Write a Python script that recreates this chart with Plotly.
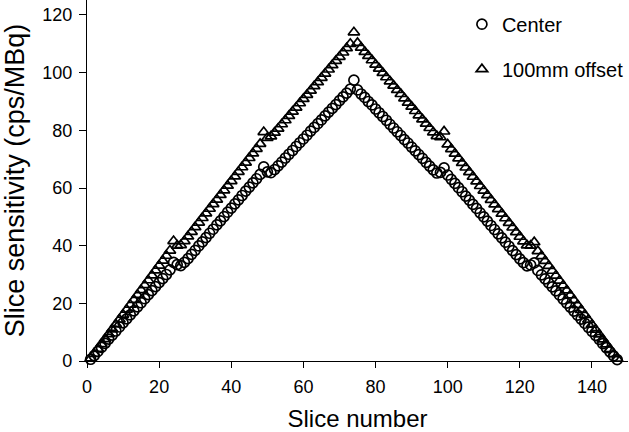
import plotly.graph_objects as go

# Slice numbers 1..147
slices = list(range(1, 148))

# Slice sensitivity, phantom at the centre (cps/MBq)
center = [
    0.6, 1.9, 3.3, 4.7, 6.1, 7.6, 9.0, 10.4, 11.8, 13.2, 14.6, 16.0, 17.4, 18.8, 20.2, 21.6,
    23.0, 24.4, 25.8, 27.2, 28.6, 30.0, 31.6,
    34.2,
    33.4, 33.1, 34.2, 35.5,
    37.0, 38.4, 39.9, 41.3, 42.8, 44.3, 45.7, 47.2, 48.6, 50.1, 51.6, 53.0, 54.5, 55.9,
    57.4, 58.9, 60.3, 61.8, 63.2, 64.7,
    67.3,
    65.6, 65.3, 66.4,
    67.7, 69.0, 70.4, 71.7, 73.0, 74.4, 75.7, 77.0, 78.3, 79.7, 81.0, 82.3, 83.6, 85.0,
    86.3, 87.6, 88.9, 90.3, 91.6, 92.9, 94.3,
    97.4,
    94.0, 92.6, 91.4, 90.0, 88.8, 87.4, 86.1, 84.8, 83.5, 82.1, 80.8, 79.5, 78.2, 76.8,
    75.6, 74.2, 72.9, 71.6, 70.3, 68.9, 67.6,
    66.3, 65.2, 65.4, 67.0,
    64.5, 63.0, 61.6, 60.1, 58.7, 57.2, 55.8, 54.3, 52.9, 51.4, 50.0, 48.5, 47.0, 45.6,
    44.1, 42.7, 41.2, 39.8, 38.3, 36.9,
    35.4, 34.1, 33.0, 33.3,
    34.0,
    31.4, 29.9, 28.5, 27.1, 25.7, 24.3, 22.9, 21.5, 20.1, 18.7, 17.3, 15.9, 14.5, 13.1,
    11.7, 10.3, 8.9, 7.5, 6.0, 4.6, 3.2, 1.8, 0.5,
]

# Slice sensitivity, phantom 100 mm off-centre (cps/MBq)
offset = [
    0.9, 2.5, 4.2, 5.9, 7.6, 9.3, 11.0, 12.7, 14.4, 16.1, 17.8, 19.5, 21.2, 22.9, 24.6, 26.3,
    28.0, 29.7, 31.4, 33.1, 34.8, 36.5, 38.3,
    41.6,
    40.0, 40.2, 41.6, 43.2,
    44.8, 46.4, 48.0, 49.6, 51.2, 52.8, 54.4, 56.0, 57.6, 59.2, 60.8, 62.4, 64.0, 65.6,
    67.2, 68.8, 70.4, 72.0, 73.6, 75.3,
    79.4,
    77.4, 77.9, 79.2,
    80.6, 82.1, 83.5, 85.0, 86.5, 87.9, 89.4, 90.9, 92.3, 93.8, 95.3, 96.7, 98.2, 99.7,
    101.1, 102.6, 104.1, 105.5, 107.0, 108.5, 110.0,
    114.0,
    110.3, 108.7, 107.2, 105.8, 104.3, 102.8, 101.4, 99.9, 98.4, 97.0, 95.5, 94.0, 92.6,
    91.1, 89.6, 88.2, 86.7, 85.2, 83.8, 82.3, 80.8,
    79.3, 78.0, 77.6, 79.6,
    75.1, 73.5, 71.9, 70.3, 68.7, 67.1, 65.5, 63.9, 62.3, 60.7, 59.1, 57.5, 55.9, 54.3,
    52.7, 51.1, 49.5, 47.9, 46.3, 44.7,
    43.1, 41.5, 40.1, 40.0,
    41.2,
    38.1, 36.4, 34.7, 33.0, 31.3, 29.6, 27.9, 26.2, 24.5, 22.8, 21.1, 19.4, 17.7, 16.0,
    14.3, 12.6, 10.9, 9.2, 7.5, 5.8, 4.1, 2.4, 0.8,
]

FONT = "Liberation Sans, Arial, sans-serif"

fig = go.Figure()

fig.add_trace(go.Scatter(
    x=slices, y=offset, mode="markers", name="100mm offset",
    marker=dict(symbol="triangle-up-open", size=10, color="black", line=dict(width=1.7)),
    cliponaxis=False, legendgroup="b", legendrank=2,
))
fig.add_trace(go.Scatter(
    x=slices, y=center, mode="markers", name="Center",
    marker=dict(symbol="circle-open", size=10, color="black", line=dict(width=1.7)),
    cliponaxis=False, legendgroup="a", legendrank=1,
))

fig.update_layout(
    width=629, height=432,
    paper_bgcolor="white", plot_bgcolor="white",
    margin=dict(l=87, r=1, t=0, b=71),
    font=dict(family=FONT, color="black", size=18),
    showlegend=True,
    legend=dict(
        x=0.693, y=0.987, xanchor="left", yanchor="top",
        bgcolor="rgba(0,0,0,0)", font=dict(size=20),
        tracegroupgap=16, itemsizing="trace",
    ),
)

fig.update_xaxes(
    range=[0, 150], tickvals=[0, 20, 40, 60, 80, 100, 120, 140],
    showline=True, linecolor="black", linewidth=1.3,
    ticks="outside", ticklen=6, tickwidth=1.3, tickcolor="black",
    ticklabelstandoff=3,
    showgrid=False, zeroline=False,
    tickfont=dict(size=18),
    title=dict(text="Slice number", font=dict(size=24), standoff=18),
)
fig.update_yaxes(
    range=[0, 125.2], tickvals=[0, 20, 40, 60, 80, 100, 120],
    showline=True, linecolor="black", linewidth=1.3,
    ticks="outside", ticklen=7, tickwidth=1.3, tickcolor="black",
    ticklabelstandoff=3,
    showgrid=False, zeroline=False,
    tickfont=dict(size=18),
    title=dict(text="Slice sensitivity (cps/MBq)", font=dict(size=27), standoff=13),
)

# remove the default page margin so the figure sits at the window origin
fig.write_html(
    "out.html",
    config={"displayModeBar": False},
    post_script="document.body.style.margin='0';",
)
